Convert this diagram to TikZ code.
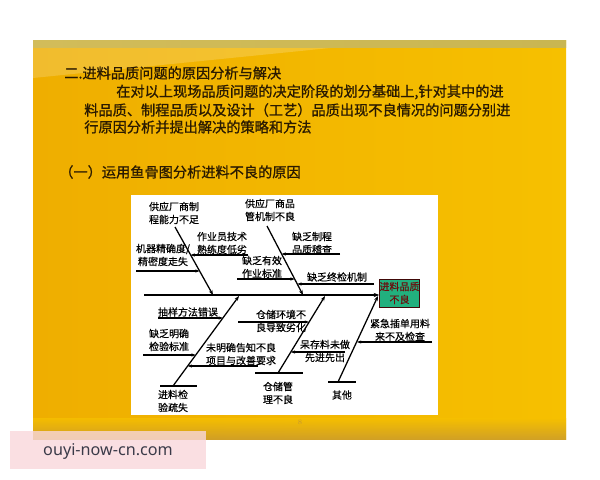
\documentclass[tikz,border=0pt]{standalone}
\usepackage{fontspec}
\usepackage{xcolor}
\usetikzlibrary{arrows.meta}
\newfontfamily\cjk[FakeBold=0.5]{Noto Sans CJK SC}
\newfontfamily\cjkhead[FakeBold=1]{Noto Sans CJK SC}
\newfontfamily\wmfont{Noto Sans}
\definecolor{slideL}{HTML}{EFAE00}
\definecolor{slideM}{HTML}{FFDE22}
\definecolor{slideR}{HTML}{F6C000}
\definecolor{slideB}{HTML}{C99A2E}
\definecolor{bandL}{HTML}{D2BC5A}
\definecolor{bandM}{HTML}{F3EFD2}
\definecolor{bandR}{HTML}{C9B652}
\definecolor{headtxt}{HTML}{2A1A00}
\definecolor{headbox}{HTML}{22B07E}
\definecolor{headred}{HTML}{6A0E0E}
\definecolor{wmpink}{HTML}{F9D8DB}
\definecolor{wmtxt}{HTML}{3A3A48}
\tikzset{
  slidetext/.style={inner sep=0pt, anchor=west, text=headtxt, font=\cjkhead\fontsize{10.1}{12}\selectfont},
  causetext/.style={inner sep=0pt, align=center, font=\cjk\fontsize{7.1}{9.2}\selectfont},
  bone/.style={line width=0.9pt, -{Stealth[length=3.5pt,width=2.6pt]}},
  rib/.style={line width=0.8pt, -{Stealth[length=3pt,width=2.2pt]}},
  shelf/.style={line width=0.8pt}
}

\begin{document}
\begin{tikzpicture}[x=0.025cm,y=-0.025cm]
\useasboundingbox (0,0) rectangle (600,480);
\fill[white] (0,0) rectangle (600,480);
% slide background
\shade[left color=slideL, middle color=slideM, right color=slideR] (33,40) rectangle (566,439);
\fill[white, opacity=0.18] (33,48) -- (330,48) -- (33,78) -- cycle;
\shade[top color=slideR, bottom color=slideB, opacity=0.8] (33,418) rectangle (566,439);
\shade[left color=bandL, middle color=bandM, right color=bandR] (33,40) rectangle (566,47);
% slide texts
\node[slidetext] (title) at (64,73) {二.进料品质问题的原因分析与解决};
\node[slidetext] (para1) at (116,92) {在对以上现场品质问题的决定阶段的划分基础上,针对其中的进};
\node[slidetext] (para2) at (84,110) {料品质、制程品质以及设计（工艺）品质出现不良情况的问题分别进};
\node[slidetext] (para3) at (84,127) {行原因分析并提出解决的策略和方法};
\node[slidetext] (subtitle) at (59,172) {（一）运用鱼骨图分析进料不良的原因};
% fishbone panel
\fill[white] (131,195) rectangle (438,415);
\node[draw=headred!60!black, fill=headbox, minimum width=0.825cm, minimum height=0.7cm, inner sep=0pt,
  causetext, text=headred] (head) at (399.5,293) {进料品质\\不良};
\coordinate (tail) at (144,295);
\draw[line width=1.3pt, -{Stealth[length=4pt,width=3pt]}] (tail) -- (tail -| head.west);
% upper bones
\coordinate (a0) at (175,227);
\coordinate (a1) at (213,295);
\coordinate (b0) at (267,226);
\coordinate (b1) at (303,295);
\draw[bone] (a0) -- (a1);
\draw[bone] (b0) -- (b1);
\coordinate (a1s) at (248,255);
\coordinate (a1e) at (190.6,255);
\coordinate (a2s) at (136,271);
\coordinate (a2e) at (199.6,271);
\coordinate (b1s) at (340,254);
\coordinate (b1e) at (281.6,254);
\coordinate (b2s) at (237,279);
\coordinate (b2e) at (294.7,279);
\coordinate (b3s) at (374,284);
\coordinate (b3e) at (297.3,284);
\draw[rib] (a1s) -- (a1e);
\draw[rib] (a2s) -- (a2e);
\draw[rib] (b1s) -- (b1e);
\draw[rib] (b2s) -- (b2e);
\draw[rib] (b3s) -- (b3e);
\node[causetext] (supply) at (174,213) {供应厂商制\\程能力不足};
\node[causetext] (skill) at (222,243) {作业员技术\\熟练度低劣};
\node[causetext] (machine) at (163,255) {机器精确度/\\精密度走失};
\node[causetext] (supplyqc) at (270,210) {供应厂商品\\管机制不良};
\node[causetext] (audit) at (312,243) {缺乏制程\\品质稽查};
\node[causetext] (standard) at (262,267) {缺乏有效\\作业标准};
\node[causetext] (final) at (337,277) {缺乏终检机制};
% lower bones
\coordinate (c0) at (173,386);
\coordinate (c1) at (239,296);
\coordinate (d0) at (278,373);
\coordinate (d1) at (325,296);
\coordinate (e0) at (338,382);
\coordinate (e1) at (378,296);
\draw[bone] (c0) -- (c1);
\draw[bone] (d0) -- (d1);
\draw[bone] (e0) -- (e1);
\coordinate (cl) at (160,386);
\coordinate (cr) at (197,386);
\coordinate (dl) at (255,373);
\coordinate (dr) at (303,373);
\coordinate (el) at (328,382);
\coordinate (er) at (356,382);
\draw[shelf] (cl) -- (cr);
\draw[shelf] (dl) -- (dr);
\draw[shelf] (el) -- (er);
\coordinate (c1s) at (158,318);
\coordinate (c1e) at (222.9,318);
\coordinate (c2s) at (143,355);
\coordinate (c2e) at (195.7,355);
\coordinate (c3s) at (258,366);
\coordinate (c3e) at (187.7,366);
\coordinate (d1s) at (238,322);
\coordinate (d1e) at (309,322);
\coordinate (d2s) at (345,352);
\coordinate (d2e) at (290.8,352);
\coordinate (e1s) at (432,342);
\coordinate (e1e) at (357,342);
\draw[rib] (c1s) -- (c1e);
\draw[rib] (c2s) -- (c2e);
\draw[rib] (c3s) -- (c3e);
\draw[rib] (d1s) -- (d1e);
\draw[rib] (d2s) -- (d2e);
\draw[rib] (e1s) -- (e1e);
\node[causetext] (incoming) at (173,401) {进料检\\验疏失};
\node[causetext] (sampling) at (188,312) {抽样方法错误};
\node[causetext] (criteria) at (169,340) {缺乏明确\\检验标准};
\node[causetext] (notify) at (241,354) {未明确告知不良\\项目与改善要求};
\node[causetext] (storage) at (278,393) {仓储管\\理不良};
\node[causetext] (environ) at (281,321) {仓储环境不\\良导致劣化};
\node[causetext] (fifo) at (325,351) {呆存料未做\\先进先出};
\node[causetext] (other) at (342,395) {其他};
\node[causetext] (urgent) at (400,330) {紧急插单用料\\来不及检查};
% page number and watermark
\node[inner sep=0pt, text=slideB, font=\fontsize{5}{6}\selectfont] (pageno) at (300,422) {8};
\fill[wmpink, opacity=0.8] (10,431) rectangle (206,469);
\node[inner sep=0pt, text=wmtxt, font=\wmfont\fontsize{11.5}{13}\selectfont] (mark) at (108,451) {ouyi-now-cn.com};
\end{tikzpicture}
\end{document}
